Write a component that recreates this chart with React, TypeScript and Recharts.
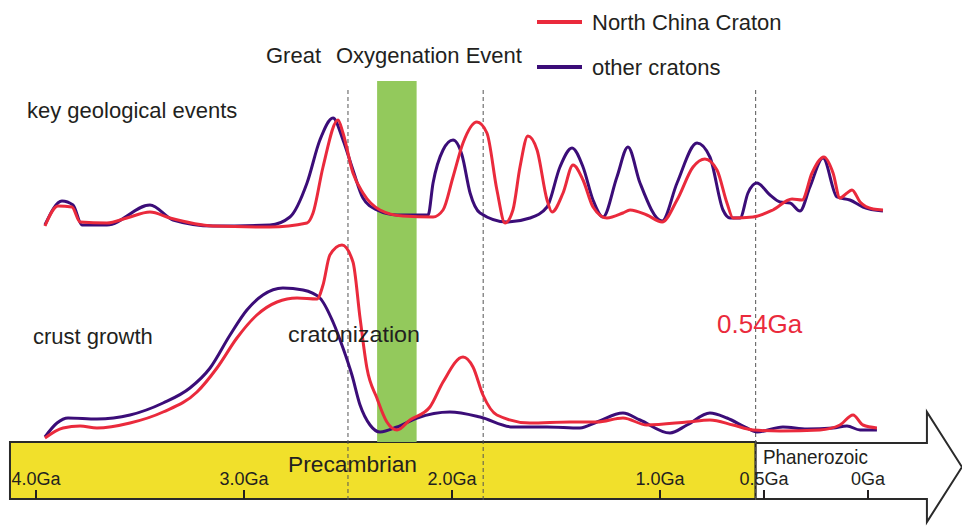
import {
  ComposedChart,
  Line,
  ReferenceArea,
  ReferenceLine,
  XAxis,
  YAxis,
} from "recharts";

const RED = "#ea2a3c";
const PURPLE = "#3b0d78";
const GOE_GREEN = "#93c95c";
const YELLOW = "#f1e02b";
const INK = "#231f20";
const FONT = "'Liberation Sans', Arial, sans-serif";

// age (Ga) ticks along the time arrow
const AGE_TICKS = [4, 3, 2, 1, 0.5, 0];
const TICK_LABELS: Record<number, string> = {
  4: "4.0Ga",
  3: "3.0Ga",
  2: "2.0Ga",
  1: "1.0Ga",
  0.5: "0.5Ga",
  0: "0Ga",
};
const BOUNDARIES = [2.5, 1.85, 0.54];
const GOE_RANGE = [2.36, 2.17];
const PRECAMBRIAN_RANGE = [4.125, 0.54];
const ARROW_END = -0.452;

const LEGEND = [
  { name: "North China Craton", color: RED },
  { name: "other cratons", color: PURPLE },
];

// key geological events, relative intensity
const OTHER_EVENTS = [
  { age: 3.957, v: 3 }, { age: 3.875, v: 27 }, { age: 3.822, v: 23 }, { age: 3.779, v: 3 },
  { age: 3.659, v: 3 }, { age: 3.452, v: 23 }, { age: 3.341, v: 8 }, { age: 3.149, v: 2 },
  { age: 2.875, v: 3 }, { age: 2.779, v: 11 }, { age: 2.697, v: 45 }, { age: 2.635, v: 88 },
  { age: 2.572, v: 110 }, { age: 2.524, v: 88 }, { age: 2.476, v: 58 }, { age: 2.428, v: 30 },
  { age: 2.361, v: 18 }, { age: 2.264, v: 13 }, { age: 2.115, v: 13 }, { age: 2.091, v: 45 },
  { age: 2.043, v: 78 }, { age: 1.995, v: 88 }, { age: 1.952, v: 73 }, { age: 1.913, v: 35 },
  { age: 1.865, v: 15 }, { age: 1.736, v: 6 }, { age: 1.625, v: 10 }, { age: 1.543, v: 21 },
  { age: 1.481, v: 61 }, { age: 1.423, v: 80 }, { age: 1.37, v: 61 }, { age: 1.322, v: 28 },
  { age: 1.274, v: 11 }, { age: 1.207, v: 51 }, { age: 1.154, v: 81 }, { age: 1.096, v: 45 },
  { age: 0.99, v: 7 }, { age: 0.918, v: 45 }, { age: 0.822, v: 85 }, { age: 0.76, v: 71 },
  { age: 0.697, v: 18 }, { age: 0.663, v: 10 }, { age: 0.615, v: 10 }, { age: 0.577, v: 35 },
  { age: 0.534, v: 45 }, { age: 0.471, v: 33 }, { age: 0.423, v: 26 }, { age: 0.375, v: 25 },
  { age: 0.327, v: 17 }, { age: 0.279, v: 41 }, { age: 0.216, v: 70 }, { age: 0.149, v: 31 },
  { age: 0.087, v: 28 }, { age: 0.024, v: 21 }, { age: -0.072, v: 17 },
];

const NCC_EVENTS = [
  { age: 3.957, v: 2 }, { age: 3.894, v: 22 }, { age: 3.827, v: 21 }, { age: 3.788, v: 6 },
  { age: 3.659, v: 5 }, { age: 3.563, v: 10 }, { age: 3.452, v: 16 }, { age: 3.356, v: 10 },
  { age: 3.149, v: 2 }, { age: 2.875, v: 1 }, { age: 2.697, v: 5 }, { age: 2.668, v: 15 },
  { age: 2.62, v: 61 }, { age: 2.548, v: 108 }, { age: 2.524, v: 95 }, { age: 2.476, v: 55 },
  { age: 2.428, v: 35 }, { age: 2.346, v: 18 }, { age: 2.236, v: 12 }, { age: 2.091, v: 11 },
  { age: 2.043, v: 18 }, { age: 1.995, v: 51 }, { age: 1.947, v: 85 }, { age: 1.88, v: 106 },
  { age: 1.832, v: 95 }, { age: 1.784, v: 38 }, { age: 1.745, v: 5 }, { age: 1.707, v: 18 },
  { age: 1.673, v: 61 }, { age: 1.635, v: 92 }, { age: 1.591, v: 78 }, { age: 1.543, v: 28 },
  { age: 1.519, v: 16 }, { age: 1.466, v: 35 }, { age: 1.418, v: 63 }, { age: 1.37, v: 48 },
  { age: 1.322, v: 21 }, { age: 1.255, v: 10 }, { age: 1.178, v: 15 }, { age: 1.144, v: 18 },
  { age: 1.063, v: 13 }, { age: 0.99, v: 6 }, { age: 0.918, v: 28 }, { age: 0.841, v: 61 },
  { age: 0.784, v: 69 }, { age: 0.726, v: 58 }, { age: 0.678, v: 25 }, { age: 0.649, v: 10 },
  { age: 0.553, v: 11 }, { age: 0.457, v: 18 }, { age: 0.365, v: 29 }, { age: 0.317, v: 28 },
  { age: 0.269, v: 55 }, { age: 0.212, v: 71 }, { age: 0.168, v: 55 }, { age: 0.135, v: 30 },
  { age: 0.101, v: 35 }, { age: 0.077, v: 38 }, { age: 0.038, v: 26 }, { age: -0.024, v: 19 },
  { age: -0.072, v: 18 },
];

// crust growth, relative intensity
const OTHER_CRUST = [
  { age: 3.957, v: 3 }, { age: 3.899, v: 17 }, { age: 3.846, v: 22 }, { age: 3.707, v: 21 },
  { age: 3.548, v: 25 }, { age: 3.389, v: 37 }, { age: 3.26, v: 52 }, { age: 3.163, v: 72 },
  { age: 3.067, v: 105 }, { age: 2.986, v: 130 }, { age: 2.909, v: 145 }, { age: 2.813, v: 152 },
  { age: 2.716, v: 150 }, { age: 2.635, v: 142 }, { age: 2.572, v: 118 }, { age: 2.524, v: 92 },
  { age: 2.481, v: 65 }, { age: 2.442, v: 35 }, { age: 2.394, v: 15 }, { age: 2.346, v: 8 },
  { age: 2.264, v: 13 }, { age: 2.168, v: 22 }, { age: 2.01, v: 28 }, { age: 1.865, v: 23 },
  { age: 1.707, v: 13 }, { age: 1.543, v: 13 }, { age: 1.385, v: 12 }, { age: 1.303, v: 18 },
  { age: 1.178, v: 27 }, { age: 1.096, v: 20 }, { age: 0.952, v: 7 }, { age: 0.87, v: 15 },
  { age: 0.76, v: 27 }, { age: 0.678, v: 22 }, { age: 0.582, v: 12 }, { age: 0.534, v: 8 },
  { age: 0.409, v: 13 }, { age: 0.293, v: 11 }, { age: 0.168, v: 12 }, { age: 0.101, v: 14 },
  { age: 0.038, v: 10 }, { age: -0.043, v: 10 },
];

const NCC_CRUST = [
  { age: 3.957, v: 2 }, { age: 3.87, v: 12 }, { age: 3.788, v: 14 }, { age: 3.707, v: 12 },
  { age: 3.548, v: 17 }, { age: 3.389, v: 28 }, { age: 3.226, v: 48 }, { age: 3.13, v: 72 },
  { age: 3.034, v: 102 }, { age: 2.938, v: 125 }, { age: 2.841, v: 138 }, { age: 2.745, v: 142 },
  { age: 2.649, v: 141 }, { age: 2.62, v: 155 }, { age: 2.587, v: 185 }, { age: 2.529, v: 195 },
  { age: 2.476, v: 178 }, { age: 2.442, v: 122 }, { age: 2.409, v: 72 }, { age: 2.361, v: 42 },
  { age: 2.313, v: 18 }, { age: 2.264, v: 10 }, { age: 2.202, v: 20 }, { age: 2.106, v: 33 },
  { age: 2.043, v: 58 }, { age: 1.947, v: 83 }, { age: 1.899, v: 73 }, { age: 1.851, v: 45 },
  { age: 1.784, v: 25 }, { age: 1.625, v: 17 }, { age: 1.433, v: 18 }, { age: 1.303, v: 18 },
  { age: 1.178, v: 22 }, { age: 1.063, v: 15 }, { age: 0.87, v: 18 }, { age: 0.76, v: 20 },
  { age: 0.649, v: 15 }, { age: 0.553, v: 10 }, { age: 0.423, v: 9 }, { age: 0.231, v: 10 },
  { age: 0.135, v: 15 }, { age: 0.072, v: 25 }, { age: 0.024, v: 15 }, { age: -0.043, v: 12 },
];

function AgeTick(props: any) {
  const { x, payload } = props;
  return (
    <g>
      <line x1={x} x2={x} y1={490} y2={499} stroke={INK} strokeWidth={2} />
      <text x={x} y={485} textAnchor="middle" fontFamily={FONT} fontSize={18} fill={INK}>
        {TICK_LABELS[payload.value]}
      </text>
    </g>
  );
}

function ArrowShape(props: any) {
  const { x, y, width, height } = props;
  const top = y + height * 0.282;
  const bot = y + height * 0.791;
  const neck = x + width * 0.83;
  const pts = [
    [x, top], [neck, top], [neck, y], [x + width, y + height / 2],
    [neck, y + height], [neck, bot], [x, bot],
  ];
  return (
    <polygon
      points={pts.map((p) => p.join(",")).join(" ")}
      fill="#fff"
      stroke="#2a2a2a"
      strokeWidth={2}
    />
  );
}

const lineProps = { type: "monotone" as const, strokeWidth: 3, dot: false, activeDot: false, isAnimationActive: false };

// annotations sit in an svg layer over the chart so reference areas can't cover them
function Annotations() {
  return (
    <svg
      width={962}
      height={526}
      style={{ position: "absolute", left: 0, top: 0, pointerEvents: "none" }}
      fontFamily={FONT}
      fill={INK}
    >
      <text x={266} y={63} fontSize={22}>Great</text>
      <text x={336} y={63} fontSize={22}>Oxygenation Event</text>
      <text x={27} y={118} fontSize={22}>key geological events</text>
      <text x={33} y={344} fontSize={22}>crust growth</text>
      <text x={288} y={342} fontSize={22} textLength={132} lengthAdjust="spacingAndGlyphs">cratonization</text>
      <text x={717} y={333} fontSize={26} fill={RED}>0.54Ga</text>
      <text x={288} y={472} fontSize={22} textLength={129} lengthAdjust="spacingAndGlyphs">Precambrian</text>
      <text x={763} y={464} fontSize={21} textLength={105} lengthAdjust="spacingAndGlyphs">Phanerozoic</text>
      {LEGEND.map((e, i) => (
        <g key={e.name}>
          <line x1={537} x2={582} y1={22 + i * 45} y2={22 + i * 45} stroke={e.color} strokeWidth={4} />
          <text x={592} y={30 + i * 45} fontSize={22}>{e.name}</text>
        </g>
      ))}
    </svg>
  );
}

export default function App() {
  return (
    <div style={{ position: "absolute", left: 0, top: 0, width: 962, height: 526, background: "#fff" }}>
      <ComposedChart width={962} height={526} margin={{ top: 0, right: 0, bottom: 0, left: 0 }}>
        <YAxis yAxisId="events" type="number" domain={[-272, 228]} hide allowDataOverflow />
        <YAxis yAxisId="crust" type="number" domain={[-60, 440]} hide allowDataOverflow />

        <ReferenceArea
          yAxisId="crust"
          x1={PRECAMBRIAN_RANGE[0]}
          x2={PRECAMBRIAN_RANGE[1]}
          y1={-59}
          y2={-2}
          fill={YELLOW}
          fillOpacity={1}
          stroke="#2a2a2a"
          strokeWidth={2}
          ifOverflow="visible"
        />
        <ReferenceArea
          yAxisId="crust"
          x1={PRECAMBRIAN_RANGE[1]}
          x2={ARROW_END}
          y1={-82}
          y2={28}
          ifOverflow="visible"
          shape={ArrowShape}
        />
        <ReferenceArea
          yAxisId="crust"
          x1={GOE_RANGE[0]}
          x2={GOE_RANGE[1]}
          y1={-2}
          y2={359}
          fill={GOE_GREEN}
          fillOpacity={1}
          stroke="none"
        />
        {BOUNDARIES.map((b) => (
          <ReferenceLine
            key={b}
            yAxisId="crust"
            segment={[{ x: b, y: -60 }, { x: b, y: 352 }]}
            stroke="#555"
            strokeWidth={1}
            strokeDasharray="4 3"
            ifOverflow="visible"
          />
        ))}

        <XAxis
          type="number"
          dataKey="age"
          domain={[ARROW_END, 4.173]}
          reversed
          allowDataOverflow
          ticks={AGE_TICKS}
          interval={0}
          height={26}
          axisLine={false}
          tickLine={false}
          tick={<AgeTick />}
        />

        <Line yAxisId="events" data={OTHER_EVENTS} dataKey="v" name="other cratons" stroke={PURPLE} {...lineProps} />
        <Line yAxisId="crust" data={OTHER_CRUST} dataKey="v" name="other cratons (crust)" stroke={PURPLE} {...lineProps} />
        <Line yAxisId="events" data={NCC_EVENTS} dataKey="v" name="North China Craton" stroke={RED} {...lineProps} />
        <Line yAxisId="crust" data={NCC_CRUST} dataKey="v" name="North China Craton (crust)" stroke={RED} {...lineProps} />
      </ComposedChart>
      <Annotations />
    </div>
  );
}
